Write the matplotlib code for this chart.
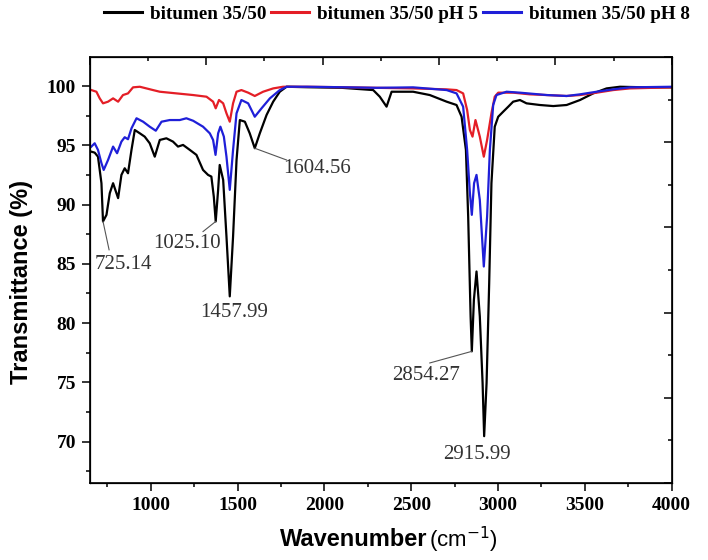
import matplotlib
matplotlib.use("Agg")
import matplotlib.pyplot as plt
from matplotlib.ticker import MultipleLocator

# FTIR spectra
wn_base = [658, 677, 696, 716, 725, 745, 764, 783, 812, 831, 850, 869, 889, 908, 937, 965,
           994, 1023, 1052, 1090, 1128, 1157, 1186, 1225, 1263, 1301, 1330, 1349, 1363, 1374,
           1388, 1397, 1417, 1436, 1455, 1474, 1494, 1513, 1542, 1570, 1599, 1628, 1667, 1705,
           1743, 1782, 1900, 2100, 2281, 2319, 2358, 2387, 2511, 2607, 2704, 2761, 2790, 2815,
           2828, 2842, 2849, 2861, 2876, 2895, 2911, 2920, 2934, 2949, 2962, 2981, 3001, 3030,
           3059, 3087, 3126, 3164, 3241, 3318, 3395, 3472, 3548, 3625, 3702, 3856, 4000]
t_base = [94.46, 94.38, 94.04, 91.80, 88.57, 89.13, 90.96, 91.80, 90.54, 92.50, 93.06, 92.64,
          94.61, 96.29, 96.01, 95.73, 95.17, 94.04, 95.45, 95.59, 95.31, 94.89, 95.03, 94.61,
          94.19, 92.92, 92.50, 92.36, 90.67, 88.57, 91.24, 93.34, 92.08, 87.30, 82.25, 87.30,
          93.76, 97.13, 96.99, 96.01, 94.75, 96.01, 97.56, 98.68, 99.52, 99.94, 99.90, 99.85,
          99.66, 99.10, 98.26, 99.52, 99.52, 99.24, 98.68, 98.40, 97.41, 94.61, 88.99, 80.56,
          77.61, 81.97, 84.35, 80.56, 74.95, 70.45, 74.95, 83.37, 91.80, 96.57, 97.41, 97.84,
          98.26, 98.68, 98.82, 98.54, 98.40, 98.31, 98.40, 98.82, 99.38, 99.80, 99.94, 99.89,
          99.89]

wn_ph5 = [658, 687, 706, 725, 754, 783, 812, 840, 869, 898, 937, 975, 1013, 1052, 1148, 1244,
          1321, 1359, 1374, 1393, 1417, 1436, 1455, 1474, 1494, 1522, 1561, 1599, 1647, 1705,
          1762, 1900, 2100, 2300, 2511, 2704, 2761, 2799, 2822, 2838, 2853, 2870, 2895, 2918,
          2937, 2962, 2981, 3001, 3087, 3183, 3280, 3395, 3472, 3568, 3663, 3760, 4000]
t_ph5 = [99.66, 99.52, 98.96, 98.54, 98.68, 98.96, 98.68, 99.24, 99.38, 99.89, 99.94, 99.80,
         99.66, 99.52, 99.38, 99.24, 99.10, 98.68, 98.12, 98.82, 98.54, 97.70, 96.99, 98.54,
         99.52, 99.66, 99.44, 99.16, 99.52, 99.80, 99.94, 99.94, 99.90, 99.85, 99.80, 99.72,
         99.66, 99.38, 97.98, 96.29, 95.73, 97.13, 95.73, 94.04, 95.45, 97.70, 99.10, 99.44,
         99.44, 99.30, 99.24, 99.16, 99.24, 99.44, 99.66, 99.80, 99.89]

wn_ph8 = [658, 677, 696, 716, 729, 754, 783, 806, 831, 850, 869, 889, 918, 956, 994, 1029,
          1062, 1109, 1167, 1205, 1244, 1301, 1340, 1359, 1373, 1388, 1401, 1421, 1436, 1455,
          1474, 1494, 1522, 1561, 1599, 1638, 1686, 1743, 1782, 1900, 2100, 2300, 2511, 2704,
          2761, 2799, 2822, 2838, 2849, 2862, 2876, 2895, 2918, 2937, 2953, 2972, 2991, 3049,
          3126, 3280, 3395, 3472, 3568, 3663, 3760, 4000]
t_ph8 = [94.89, 95.17, 94.61, 93.49, 92.92, 93.76, 94.89, 94.33, 95.31, 95.68, 95.51, 96.43,
         97.28, 96.99, 96.57, 96.23, 96.99, 97.13, 97.13, 97.28, 97.07, 96.57, 96.01, 95.45,
         94.19, 96.01, 96.57, 95.73, 94.04, 91.24, 94.61, 97.70, 98.82, 98.54, 97.41, 98.12,
         98.96, 99.66, 99.94, 99.94, 99.90, 99.85, 99.89, 99.66, 99.38, 98.26, 94.61, 90.96,
         89.13, 91.80, 92.50, 90.39, 84.77, 88.99, 94.61, 98.40, 99.24, 99.52, 99.44, 99.24,
         99.16, 99.30, 99.52, 99.72, 99.89, 99.94]

# peak labels: text, peak (x, y), text centre (x, y), end of leader line (None = no line)
peak_labels = ["725.14", "1025.10", "1457.99", "1604.56", "2854.27", "2915.99"]
peak_xy = [(725, 88.57), (1374, 88.57), (1455, 82.25), (1599, 94.75), (2849, 77.61), (2920, 70.45)]
text_xy = [(840, 84.9), (1210, 86.7), (1480, 80.9), (1959, 93.05), (2584, 75.6), (2881, 68.9)]
leader_end = [(760, 86.18), (1301, 87.72), None, (1782, 93.76), (2607, 76.63), None]

serif = "Liberation Serif"
sans = "Liberation Sans"

fig = plt.figure(figsize=(7.08, 5.6), dpi=100)
ax = fig.add_axes([0.1271, 0.1375, 0.9487 - 0.1271, 0.8982 - 0.1375])

ax.plot(wn_base, t_base, color="black", lw=1.6, label="bitumen 35/50")
ax.plot(wn_ph5, t_ph5, color="#e41e26", lw=1.6, label="bitumen 35/50 pH 5")
ax.plot(wn_ph8, t_ph8, color="#1f1fd8", lw=1.6, label="bitumen 35/50 pH 8")

ax.set_xlim(650, 4000)
ax.set_ylim(66.5, 102.45)
ax.xaxis.set_major_locator(MultipleLocator(500))
ax.xaxis.set_minor_locator(MultipleLocator(250))
ax.yaxis.set_major_locator(MultipleLocator(5))
ax.yaxis.set_minor_locator(MultipleLocator(2.5))
ax.tick_params(which="major", direction="out", length=6, width=1.1, pad=4)
ax.tick_params(which="minor", direction="out", length=3, width=1.1)
for lab in ax.get_xticklabels() + ax.get_yticklabels():
    lab.set_fontfamily(serif)
    lab.set_fontweight("bold")
    lab.set_fontsize(14)
for sp in ax.spines.values():
    sp.set_linewidth(1.2)

# Origin-style mirrored axes with their own tick spacing
top = ax.twiny()
top.set_xlim(0, 5)
top.xaxis.set_major_locator(MultipleLocator(1))
top.xaxis.set_minor_locator(MultipleLocator(0.5))
top.tick_params(which="major", direction="in", length=6, width=1.1, labeltop=False)
top.tick_params(which="minor", direction="in", length=3, width=1.1)
right = ax.twinx()
right.set_ylim(0, 10)
right.yaxis.set_major_locator(MultipleLocator(2))
right.yaxis.set_minor_locator(MultipleLocator(1))
right.tick_params(which="major", direction="in", length=6, width=1.1, labelright=False)
right.tick_params(which="minor", direction="in", length=3, width=1.1)

for name, pxy, txy, end in zip(peak_labels, peak_xy, text_xy, leader_end):
    ax.text(txy[0], txy[1], name, ha="center", va="center", fontsize=15,
            fontfamily=serif, color="#333333")
    if end is not None:
        ax.plot([pxy[0], end[0]], [pxy[1], end[1]], color="#555555", lw=0.8)

fig.text(0.030, 0.497, "Transmittance (%)", rotation=90, ha="center", va="center",
         fontsize=17, fontweight="bold", fontfamily=sans)
fig.text(0.604, 0.036, "Wavenumber", ha="right", va="center",
         fontsize=17, fontweight="bold", fontfamily=sans)
fig.text(0.606, 0.036, "(cm$^{-1}$)", ha="left", va="center", fontsize=16, fontfamily=sans)

leg = fig.legend(loc="center", bbox_to_anchor=(0.56, 0.975), ncol=3, frameon=False,
                 handlelength=2.0, handletextpad=0.4, columnspacing=0.25,
                 borderpad=0.2, prop={"family": serif, "weight": "bold", "size": 13.8})
for h in leg.get_lines():
    h.set_linewidth(2.2)

fig.savefig("out.png", dpi=100)
